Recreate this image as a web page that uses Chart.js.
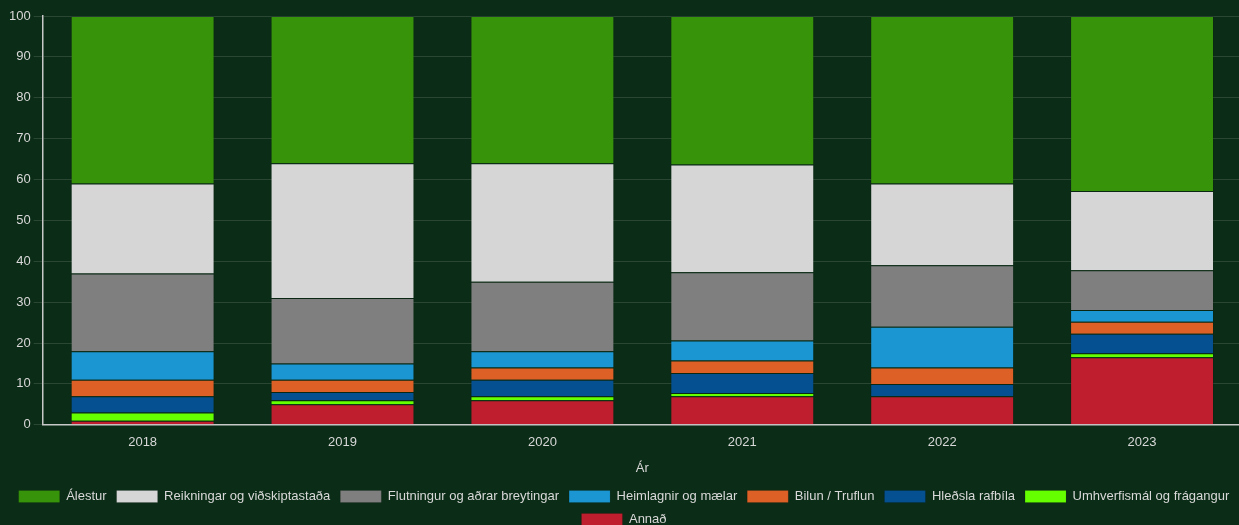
<!DOCTYPE html>
<html>
<head>
<meta charset="utf-8">
<script src="https://cdn.jsdelivr.net/npm/chart.js@4/dist/chart.umd.min.js"></script>
<style>
    html, body { margin: 0; padding: 0; background: #0b2c16; overflow: hidden; }
    #wrap { position: relative; width: 1242px; height: 536px; }
</style>
</head>
<body>
<div id="wrap"><canvas id="chart"></canvas></div>
<script>
// Data (percent per year), stacked bottom-up
const years = ['2018', '2019', '2020', '2021', '2022', '2023'];

const annad       = [1, 5, 6, 7, 7, 16.5];
const umhverfis   = [2, 1, 1, 0.8, 0, 1];
const hledsla     = [4, 2, 4, 4.9, 3, 4.8];
const bilun       = [4, 3, 3, 3, 4, 2.9];
const heimlagnir  = [7, 4, 4, 4.9, 10, 2.9];
const flutningur  = [19, 16, 17, 16.7, 15, 9.7];
const reikningar  = [22, 33, 29, 26.4, 20, 19.4];
const alestur     = [41, 36, 36, 36.3, 41, 42.8];

const yTicks = [0, 10, 20, 30, 40, 50, 60, 70, 80, 90, 100];

const textColor = '#d8d8d8';
const gridColor = 'rgba(255,255,255,0.13)';

Chart.defaults.font.family = "'Liberation Sans', Arial, sans-serif";
Chart.defaults.font.size = 13;
Chart.defaults.color = textColor;

function ds(label, data, color) {
    return {
        label: label,
        data: data,
        backgroundColor: color,
        borderColor: 'rgba(0,0,0,0.1)',
        borderWidth: 1
    };
}

const ctx = document.getElementById('chart').getContext('2d');
new Chart(ctx, {
    type: 'bar',
    data: {
        labels: years,
        datasets: [
            ds('Annað', annad, '#be1e2d'),
            ds('Umhverfismál og frágangur', umhverfis, '#66ff00'),
            ds('Hleðsla rafbíla', hledsla, '#045091'),
            ds('Bilun / Truflun', bilun, '#dd6027'),
            ds('Heimlagnir og mælar', heimlagnir, '#1b96d2'),
            ds('Flutningur og aðrar breytingar', flutningur, '#7f7f7f'),
            ds('Reikningar og viðskiptastaða', reikningar, '#d6d6d6'),
            ds('Álestur', alestur, '#36930a')
        ]
    },
    options: {
        responsive: true,
        maintainAspectRatio: false,
        animation: false,
        layout: { padding: { top: 16, left: 6, right: 0, bottom: 0 } },
        plugins: {
            legend: {
                position: 'bottom',
                reverse: true,
                labels: {
                    color: textColor,
                    boxWidth: 41,
                    boxHeight: 12,
                    padding: 10,
                    font: { size: 13 }
                }
            },
            tooltip: { enabled: false }
        },
        scales: {
            x: {
                stacked: true,
                grid: { display: false, drawTicks: false },
                border: { color: '#c8c8c8', width: 1.5 },
                ticks: { color: textColor, padding: 10 },
                title: { display: true, text: 'Ár', color: textColor, font: { size: 13 }, padding: { top: 0, bottom: 4 } }
            },
            y: {
                stacked: true,
                min: 0,
                max: 100,
                afterBuildTicks: axis => { axis.ticks = yTicks.map(v => ({ value: v })); },
                grid: { color: gridColor, tickLength: 9 },
                border: { color: '#c8c8c8', width: 1.5 },
                ticks: { color: textColor, padding: 3 }
            }
        }
    }
});
</script>
</body>
</html>
